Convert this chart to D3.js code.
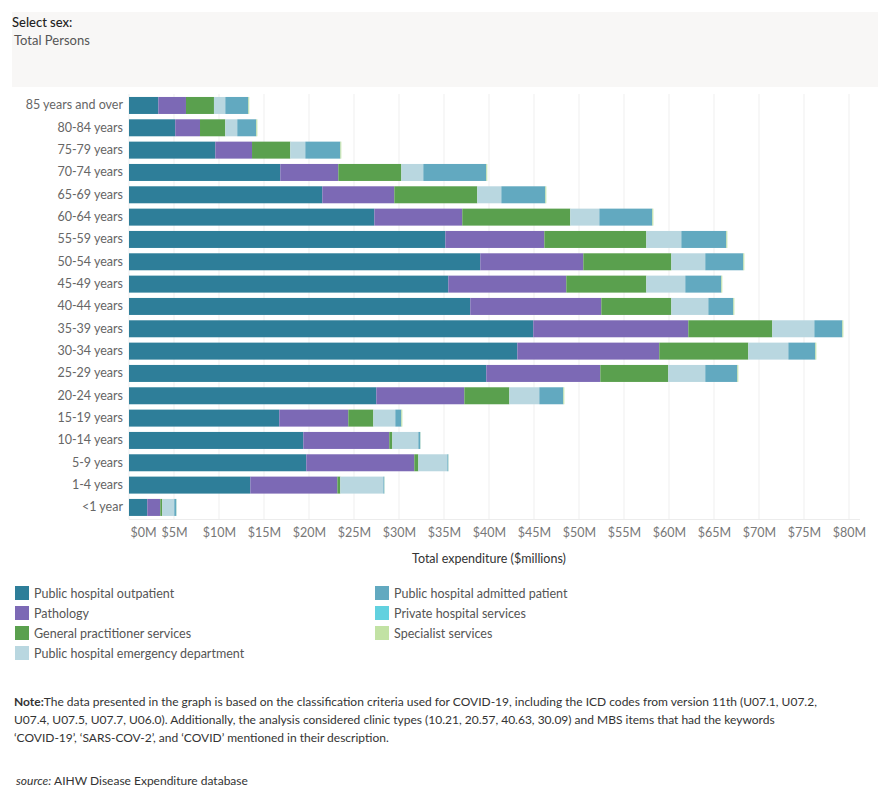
<!DOCTYPE html>
<html>
<head>
<meta charset="utf-8">
<script src="https://cdn.jsdelivr.net/npm/d3@7"></script>
<style>
  body { margin: 0; background: #fff; }
  text { font-family: Lato, "Open Sans", sans-serif; }
</style>
</head>
<body>
<div id="chart"></div>
<script>
const ageGroups = ["85 years and over", "80-84 years", "75-79 years", "70-74 years", "65-69 years",
  "60-64 years", "55-59 years", "50-54 years", "45-49 years", "40-44 years", "35-39 years",
  "30-34 years", "25-29 years", "20-24 years", "15-19 years", "10-14 years", "5-9 years",
  "1-4 years", "<1 year"];

// $ millions
const outpatient = [3.26, 5.14, 9.59, 16.81, 21.48, 27.26, 35.15, 39.03, 35.48, 37.92, 44.92, 43.15, 39.7, 27.48, 16.7, 19.37, 19.7, 13.48, 2.03];
const pathology  = [3.07, 2.75, 4.08, 6.45, 8.0, 9.77, 11.0, 11.45, 13.11, 14.56, 17.23, 15.77, 12.67, 9.78, 7.67, 9.55, 12.0, 9.67, 1.45];
const gp         = [3.11, 2.81, 4.25, 7.0, 9.22, 12.0, 11.33, 9.78, 8.89, 7.78, 9.33, 9.89, 7.55, 5.0, 2.78, 0.34, 0.45, 0.33, 0.22];
const emergency  = [1.26, 1.33, 1.67, 2.44, 2.67, 3.23, 3.89, 3.77, 4.33, 4.11, 4.67, 4.45, 4.11, 3.33, 2.44, 2.89, 3.22, 4.78, 1.33];
const admitted   = [2.56, 2.11, 3.89, 7.0, 4.89, 5.88, 5.0, 4.23, 4.0, 2.78, 3.11, 3.0, 3.56, 2.67, 0.67, 0.22, 0.11, 0.11, 0.23];
const privateHosp = [0, 0, 0, 0, 0, 0, 0, 0, 0, 0, 0, 0, 0, 0, 0, 0, 0, 0, 0];
const specialist = [0.1, 0.12, 0.11, 0.11, 0.11, 0.12, 0.11, 0.11, 0.11, 0.11, 0.11, 0.11, 0.11, 0.11, 0.11, 0.02, 0.02, 0.02, 0.02];

const seriesNames = ["Public hospital outpatient", "Pathology", "General practitioner services",
  "Public hospital emergency department", "Public hospital admitted patient",
  "Private hospital services", "Specialist services"];
const seriesValues = [outpatient, pathology, gp, emergency, admitted, privateHosp, specialist];
const colors = ["#2e7e99", "#7c69b5", "#5aa04e", "#b9d7e0", "#62a9c0", "#62d1df", "#c2e2a4"];
const xTicks = d3.range(0, 85, 5);

const width = 890;
const height = 800;
const margin = { top: 92, right: 30, bottom: 282, left: 129 };

const svg = d3.select("#chart")
    .append("svg")
    .attr("width", width)
    .attr("height", height);

// Filter box
svg.append("rect")
    .attr("x", 12).attr("y", 12)
    .attr("width", 866).attr("height", 75)
    .attr("fill", "#f8f7f6");
svg.append("text")
    .attr("x", 12).attr("y", 27)
    .attr("font-size", 13).attr("fill", "#222")
    .attr("font-weight", 500)
    .text("Select sex:");
svg.append("text")
    .attr("x", 14).attr("y", 45)
    .attr("font-size", 13).attr("fill", "#555")
    .text("Total Persons");

// Build table for stack
const table = ageGroups.map((age, i) => {
    const row = { age };
    seriesNames.forEach((name, s) => { row[name] = seriesValues[s][i]; });
    return row;
});
const stacked = d3.stack().keys(seriesNames)(table);

const xScale = d3.scaleLinear()
    .domain([0, 80])
    .range([margin.left, 849]);

const yScale = d3.scaleBand()
    .domain(ageGroups)
    .range([92.5, 520.4])
    .paddingInner(0.239)
    .paddingOuter(0.2);

// Gridlines
svg.append("g")
    .selectAll("line")
    .data(xTicks)
    .enter()
    .append("line")
    .attr("x1", d => xScale(d)).attr("x2", d => xScale(d))
    .attr("y1", 94).attr("y2", 519)
    .attr("stroke", "#efefef")
    .attr("stroke-width", 1);

svg.append("line")
    .attr("x1", margin.left).attr("x2", 860)
    .attr("y1", 519.5).attr("y2", 519.5)
    .attr("stroke", "#ececec");

// Bars
svg.append("g")
    .selectAll("g")
    .data(stacked)
    .enter()
    .append("g")
    .attr("fill", (_, i) => colors[i])
    .selectAll("rect")
    .data(d => d)
    .enter()
    .append("rect")
    .attr("x", d => xScale(d[0]))
    .attr("y", d => yScale(d.data.age))
    .attr("width", d => Math.max(0, xScale(d[1]) - xScale(d[0])))
    .attr("height", yScale.bandwidth());

// Y axis labels
const yAxis = svg.append("g")
    .attr("transform", `translate(${margin.left - 6}, 0)`)
    .call(d3.axisLeft(yScale).tickSize(0).tickPadding(0));
yAxis.select(".domain").remove();
yAxis.selectAll("text")
    .attr("font-size", 12.5)
    .attr("fill", "#666")
    .attr("font-family", "Lato, sans-serif");

// X axis
const xAxis = svg.append("g")
    .attr("transform", "translate(0, 525)")
    .call(d3.axisBottom(xScale).tickValues(xTicks).tickFormat(d => `$${d}M`).tickSize(0).tickPadding(0));
xAxis.select(".domain").remove();
xAxis.selectAll("text")
    .attr("font-size", 12.5)
    .attr("fill", "#777")
    .attr("font-family", "Lato, sans-serif")
    .attr("dy", "0.95em");
xAxis.selectAll(".tick")
    .filter(d => d === 0)
    .select("text")
    .attr("text-anchor", "start")
    .attr("x", 1);

svg.append("text")
    .attr("x", 489).attr("y", 563)
    .attr("text-anchor", "middle")
    .attr("font-size", 12.5)
    .attr("fill", "#333")
    .text("Total expenditure ($millions)");

// Legend
const legendPos = [[15, 586], [15, 606], [15, 626], [15, 646], [375, 586], [375, 606], [375, 626]];
const legend = svg.append("g")
    .selectAll("g")
    .data(seriesNames)
    .enter()
    .append("g")
    .attr("transform", (_, i) => `translate(${legendPos[i][0]}, ${legendPos[i][1]})`);
legend.append("rect")
    .attr("width", 14).attr("height", 14)
    .attr("fill", (_, i) => colors[i]);
legend.append("text")
    .attr("x", 19).attr("y", 11.5)
    .attr("font-size", 12.5)
    .attr("fill", "#555")
    .text(d => d);

// Note
const noteLines = [
  "The data presented in the graph is based on the classification criteria used for COVID-19, including the ICD codes from version 11th (U07.1, U07.2,",
  "U07.4, U07.5, U07.7, U06.0). Additionally, the analysis considered clinic types (10.21, 20.57, 40.63, 30.09) and MBS items that had the keywords",
  "\u2018COVID-19\u2019, \u2018SARS-COV-2\u2019, and \u2018COVID\u2019 mentioned in their description."
];
const note = svg.append("g").attr("font-size", 12).attr("fill", "#333");
const first = note.append("text").attr("x", 14).attr("y", 706);
first.append("tspan").attr("font-weight", "bold").text("Note:");
first.append("tspan").text(noteLines[0]);
note.append("text").attr("x", 14).attr("y", 724).text(noteLines[1]);
note.append("text").attr("x", 14).attr("y", 742).text(noteLines[2]);

const src = svg.append("text")
    .attr("x", 16).attr("y", 785)
    .attr("font-size", 12).attr("fill", "#333");
src.append("tspan").attr("font-style", "italic").text("source:");
src.append("tspan").text(" AIHW Disease Expenditure database");
</script>
</body>
</html>
